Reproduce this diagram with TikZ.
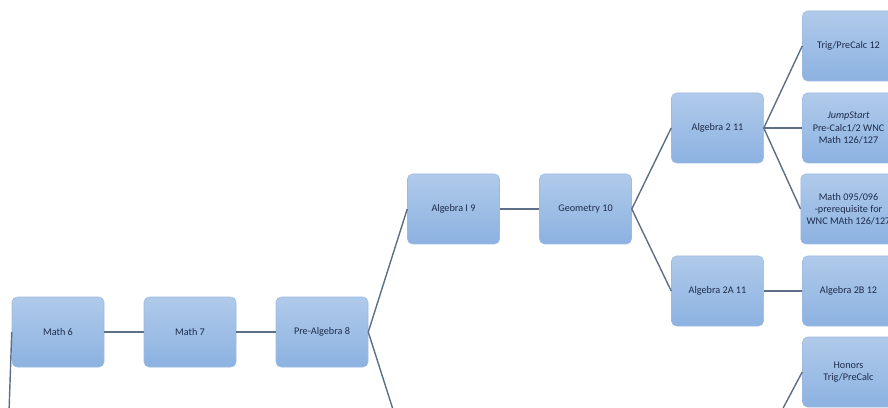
\documentclass[tikz,border=0pt]{standalone}
\usepackage{fontspec}
\setmainfont{Carlito}
\definecolor{boxtop}{HTML}{B0CAEA}
\definecolor{boxbot}{HTML}{8CB2E1}
\definecolor{boxline}{HTML}{9DBADF}
\definecolor{linkcol}{HTML}{5E6E86}
\definecolor{textcol}{HTML}{1E2C4C}
\tikzset{
	course/.style={draw=boxline, line width=0.3pt,
		top color=boxtop, bottom color=boxbot,
		rounded corners=0.1cm,
		minimum width=1.84cm, minimum height=1.4cm,
		align=center, text=textcol,
		font=\fontsize{5.8}{7}\selectfont},
	link/.style={draw=linkcol, line width=0.8pt}
}
\begin{document}
\begin{tikzpicture}
\useasboundingbox (0,0) rectangle (17.76,8.14);

%Middle School
\node [course]  (m6)at (1.16,1.50) {Math 6};
\node [course]  (m7)at (3.80,1.50) {Math 7};
\node [course]  (pa8)at (6.44,1.50) {Pre-Algebra 8};

%Math 6 Input
\coordinate (m6in) at (0.15,-1);
\draw[link] (m6in) -- (m6.west);

\draw[link]  (m6.east)--(m7.west);
\draw[link]  (m7.east)--(pa8.west);

%High School
\node [course]  (a9)at (9.07,3.96) {Algebra I 9};
\node [course]  (g10)at (11.71,3.96) {Geometry 10};
\node (a9low) at (8.15,-0.96) [coordinate] {};

\draw[link]  (pa8.east)--(a9.west);
\draw[link]  (pa8.east)--(a9low);
\draw[link]  (a9.east)--(g10.west);

\node [course]  (a211)at (14.35,5.58) {Algebra 2 11};
\node [course]  (a2a11)at (14.35,2.32) {Algebra 2A 11};

\draw[link]  (g10.east)--(a211.west);
\draw[link]  (g10.east)--(a2a11.west);

%Grade 12
\node [course]  (tpc)at (16.97,7.22) {Trig/PreCalc 12};
\node [course]  (js)at (16.97,5.58) {\textit{JumpStart}\\Pre-Calc1/2 WNC\\Math 126/127};
\node [course]  (m095)at (16.97,3.96) {Math 095/096\\-prerequisite for\\WNC MAth 126/127};
\node [course]  (a2b)at (16.97,2.32) {Algebra 2B 12};
\node [course]  (htpc)at (16.97,0.70) {Honors\\Trig/PreCalc};

\draw[link]  (a211.east)--(tpc.west);
\draw[link]  (a211.east)--(js.west);
\draw[link]  (a211.east)--(m095.west);
\draw[link]  (a2a11.east)--(a2b.west);

%Honors Input
\coordinate (hin) at (15.26,-0.78);
\draw[link] (hin) -- (htpc.west);

\end{tikzpicture}
\end{document}
